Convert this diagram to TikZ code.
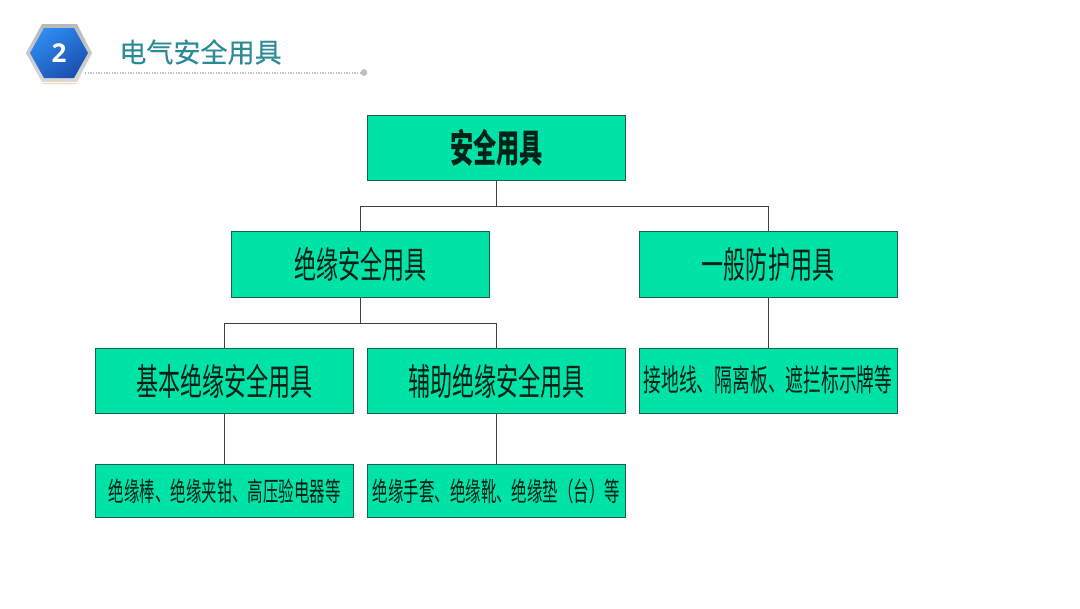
\documentclass[tikz,border=0pt]{standalone}
\usepackage{fontspec}
\setmainfont{Open Sans}
\newfontfamily\cjk[FakeBold=0.15]{Noto Sans CJK SC}
\newfontfamily\boxfont[FakeStretch=0.6]{Noto Sans CJK SC}
\newfontfamily\smallboxfont[FakeStretch=0.58]{Noto Sans CJK SC}
\definecolor{boxgreen}{HTML}{00E3A6}
\definecolor{boxedge}{HTML}{1C5F50}
\definecolor{headteal}{HTML}{2A8A96}
\definecolor{dotgrey}{HTML}{BEBEBE}
\definecolor{hexlight}{HTML}{2F8CF0}
\definecolor{hexdark}{HTML}{1B4FB0}
\tikzset{
    toolbox/.style={draw=boxedge,fill=boxgreen,line width=0.75pt,minimum width=193.5pt,inner sep=0pt,text=black!85!boxgreen},
    tallbox/.style={toolbox,minimum height=49pt},
    lowbox/.style={toolbox,minimum height=40pt},
    link/.style={draw=black!75,line width=0.75pt}
}
\begin{document}
\begin{tikzpicture}[x=0.75pt,y=-0.75pt]
    \useasboundingbox (0,0) rectangle (1080,608);
    \fill[white] (0,0) rectangle (1080,608);
    \shade[top color=gray!55,bottom color=gray!30] (42,24) -- (77,24) -- (92,53) -- (77,82) -- (42,82) -- (26,53) -- cycle;
    \draw[orange!35,line width=0.75pt] (43,83) -- (76,83);
    \shade[left color=hexlight,right color=hexdark,shading angle=35] (44,28) -- (74,28) -- (88,53) -- (74,78) -- (44,78) -- (30,53) -- cycle;
    \node[text=white,font=\bfseries\fontsize{19.5pt}{19.5pt}\selectfont] (num) at (59,53) {2};
    \node[text=headteal,font=\cjk\fontsize{20.3pt}{20.3pt}\selectfont] (head) at (200.5,52) {电气安全用具};
    \coordinate (dots) at (85,72.5);
    \node[circle,fill=dotgrey,minimum size=5pt,inner sep=0pt] (dotend) at (364,72.5) {};
    \draw[dotgrey,line width=1.5pt,dash pattern=on 1.1pt off 0.9pt] (dots) -- (dotend);

    \node[tallbox,font=\boxfont\bfseries\fontsize{29pt}{29pt}\selectfont] (root) at (496.5,148) {安全用具};
    \node[tallbox,font=\boxfont\fontsize{27.6pt}{27.6pt}\selectfont] (insul) at (360.5,264.5) {绝缘安全用具};
    \node[tallbox,font=\boxfont\fontsize{27.6pt}{27.6pt}\selectfont] (general) at (768,264.5) {一般防护用具};
    \node[tallbox,font=\boxfont\fontsize{27.6pt}{27.6pt}\selectfont] (basic) at (224.75,381) {基本绝缘安全用具};
    \node[tallbox,font=\boxfont\fontsize{27.6pt}{27.6pt}\selectfont] (aux) at (496.5,381) {辅助绝缘安全用具};
    \node[tallbox,font=\smallboxfont\fontsize{23pt}{23pt}\selectfont] (guard) at (768,381) {\raisebox{3.5pt}{接地线、隔离板、遮拦标示牌等}};
    \node[lowbox,font=\smallboxfont\fontsize{20pt}{20pt}\selectfont] (basicitems) at (224.75,491) {绝缘棒、绝缘夹钳、高压验电器等};
    \node[lowbox,font=\smallboxfont\fontsize{20pt}{20pt}\selectfont] (auxitems) at (496.5,491) {绝缘手套、绝缘靴、绝缘垫（台）等};

    \coordinate (busa) at (496.5,206);
    \coordinate (busb) at (360.5,323);
    \draw[link] (root.south) -- (busa) -| (insul.north);
    \draw[link] (busa) -| (general.north);
    \draw[link] (insul.south) -- (busb) -| (basic.north);
    \draw[link] (busb) -| (aux.north);
    \draw[link] (general.south) -- (guard.north);
    \draw[link] (basic.south) -- (basicitems.north);
    \draw[link] (aux.south) -- (auxitems.north);
\end{tikzpicture}
\end{document}
